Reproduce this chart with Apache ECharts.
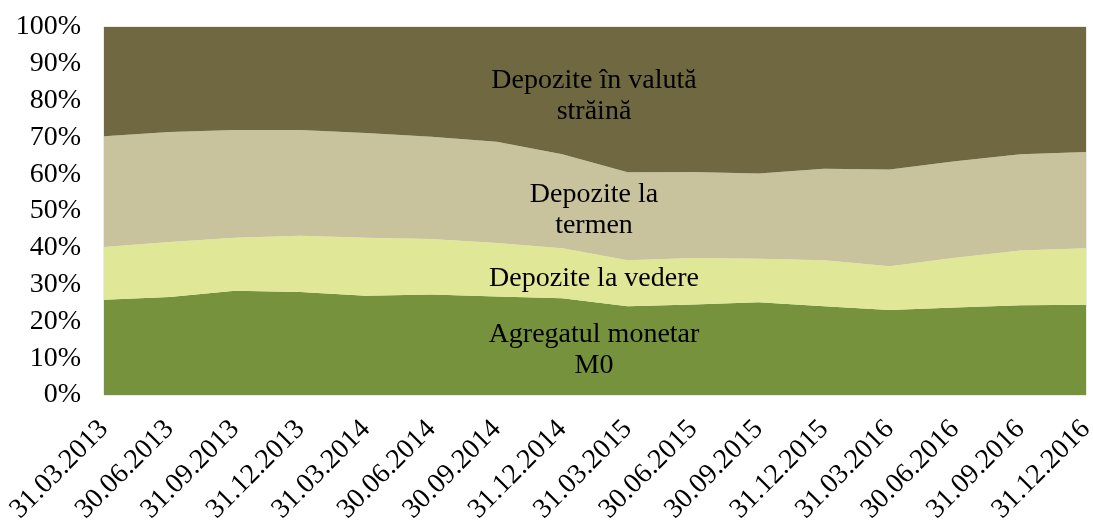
<!DOCTYPE html>
<html>
<head>
<meta charset="utf-8">
<script src="https://cdn.jsdelivr.net/npm/echarts@6/dist/echarts.min.js"></script>
<style>
html,body{margin:0;padding:0;background:#fff;}
#chart{width:1093px;height:523px;}
</style>
</head>
<body>
<div id="chart"></div>
<script>
const categories = ['31.03.2013','30.06.2013','31.09.2013','31.12.2013','31.03.2014','30.06.2014','30.09.2014','31.12.2014','31.03.2015','30.06.2015','30.09.2015','31.12.2015','31.03.2016','30.06.2016','31.09.2016','31.12.2016'];
const agregatM0 = [25.9,26.6,28.3,28.0,27.0,27.3,26.8,26.3,24.1,24.6,25.2,24.1,23.1,23.8,24.4,24.5];
const depoziteVedere = [14.3,15.0,14.4,15.3,15.7,15.1,14.5,13.6,12.5,12.6,11.8,12.5,11.9,13.5,14.9,15.4];
const depoziteTermen = [30.1,29.9,29.3,28.7,28.5,27.8,27.5,25.5,23.9,23.4,23.2,24.9,26.3,26.2,26.1,26.1];
const depoziteValuta = [29.7,28.5,28.0,28.0,28.8,29.8,31.2,34.6,39.5,39.4,39.8,38.5,38.7,36.5,34.6,34.0];
const yTicks = [0,10,20,30,40,50,60,70,80,90,100];

const FONT = '"Liberation Serif", "DejaVu Serif", serif';
const chart = echarts.init(document.getElementById('chart'));

function areaSeries(name, data, color) {
  return {
    name: name, type: 'line', stack: 'total', data: data,
    symbol: 'none', lineStyle: { width: 0 },
    areaStyle: { color: color, opacity: 1 },
    itemStyle: { color: color },
    emphasis: { disabled: true }
  };
}

function label(text, x, y) {
  return {
    type: 'text', z: 100, x: x, y: y,
    style: { text: text, fontFamily: FONT, fontSize: 28, fill: '#000', align: 'center', verticalAlign: 'middle', lineHeight: 31 }
  };
}

chart.setOption({
  animation: false,
  grid: { left: 104, right: 7, top: 27, bottom: 128, outerBoundsMode: 'none', containLabel: false, show: true, borderColor: '#d4d4d4', borderWidth: 1, backgroundColor: 'transparent' },
  xAxis: {
    type: 'category', data: categories, boundaryGap: false,
    axisLine: { show: false }, axisTick: { show: false },
    axisLabel: { rotate: 45, fontFamily: FONT, fontSize: 28, color: '#000', margin: 30, interval: 0 },
    splitLine: { show: false }
  },
  yAxis: {
    type: 'value', min: yTicks[0], max: yTicks[yTicks.length - 1], interval: 10,
    axisLine: { show: false }, axisTick: { show: false }, splitLine: { show: false },
    axisLabel: { formatter: '{value}%', fontFamily: FONT, fontSize: 28, color: '#000', margin: 23 }
  },
  series: [
    areaSeries('Agregatul monetar M0', agregatM0, '#77923c'),
    areaSeries('Depozite la vedere', depoziteVedere, '#e0e797'),
    areaSeries('Depozite la termen', depoziteTermen, '#c8c39d'),
    areaSeries('Depozite în valută străină', depoziteValuta, '#706841')
  ],
  graphic: [
    label('Depozite în valută\nstrăină', 594, 96),
    label('Depozite la\ntermen', 594, 210),
    label('Depozite la vedere', 594, 279),
    label('Agregatul monetar\nM0', 594, 350)
  ]
});
</script>
</body>
</html>
